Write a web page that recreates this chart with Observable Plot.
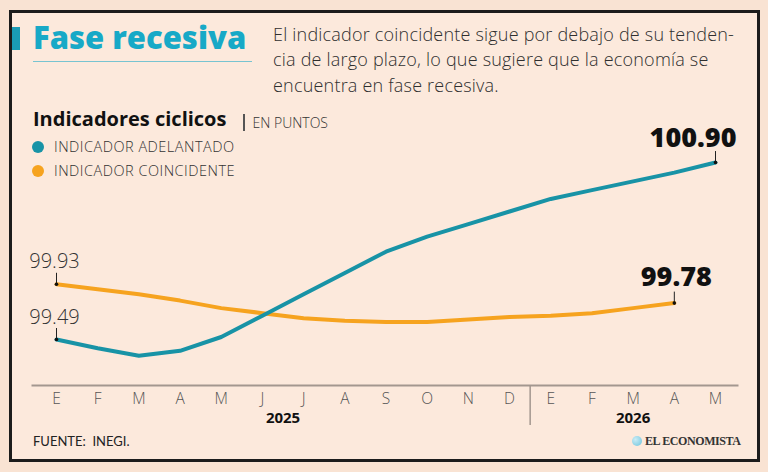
<!DOCTYPE html>
<html>
<head>
<meta charset="utf-8">
<script src="https://cdn.jsdelivr.net/npm/d3@7"></script>
<script src="https://cdn.jsdelivr.net/npm/@observablehq/plot@0.6"></script>
<style>
  html, body { margin: 0; padding: 0; }
  body { width: 768px; height: 472px; background: #f9e3d3; position: relative; overflow: hidden; font-family: "Open Sans", Lato, sans-serif; color: #333; }
  #card { position: absolute; left: 9px; top: 10px; width: 745px; height: 446px; border: 3px solid #1c1c1c; background: #fce9dc; }
  .abs { position: absolute; white-space: nowrap; }
  #bar { left: 12px; top: 27px; width: 8px; height: 23px; background: #1a9cb6; }
  #title { left: 33px; top: 22px; font-size: 31px; line-height: 31px; font-weight: 800; color: #17a9c7; }
  #rule { left: 33px; top: 61px; width: 219px; height: 1px; background: #78c4d1; }
  #sub { left: 273px; top: 21.5px; font-size: 18px; line-height: 25.5px; font-weight: 300; color: #2f2f2f; letter-spacing: 0.2px; }
  #head { left: 33px; top: 109px; font-size: 20px; line-height: 20px; font-weight: 700; color: #111; }
  #unit { left: 243px; top: 113.5px; font-size: 14px; line-height: 16px; font-weight: 300; color: #333; }
  #unit .sep { display: inline-block; width: 1.5px; height: 17px; background: #555; vertical-align: -3px; margin-right: 8px; }
  .key { left: 32px; font-size: 14.5px; line-height: 16px; font-weight: 300; color: #333; letter-spacing: 0.5px; }
  .dot { display: inline-block; width: 12px; height: 12px; border-radius: 50%; margin-right: 10px; vertical-align: -1px; }
  #src { left: 33px; top: 434px; font-family: Lato, sans-serif; font-size: 13px; line-height: 14px; font-weight: 400; color: #222; }
  #logo { left: 632px; top: 434px; font-size: 12px; line-height: 14px; font-family: "Liberation Serif", serif; font-weight: 700; color: #333; letter-spacing: -0.4px; }
  #logo .ball { display: inline-block; width: 10px; height: 10px; border-radius: 50%; background: radial-gradient(circle at 35% 35%, #c9ecf5, #6cc3dd); margin-right: 3px; vertical-align: -1px; }
  #chart { position: absolute; left: 0; top: 0; }
</style>
</head>
<body>
<div id="card"></div>
<div class="abs" id="bar"></div>
<div class="abs" id="title">Fase recesiva</div>
<div class="abs" id="rule"></div>
<div class="abs" id="sub">El indicador coincidente sigue por debajo de su tenden-<br>cia de largo plazo, lo que sugiere que la economía se<br>encuentra en fase recesiva.</div>
<div class="abs" id="head">Indicadores ciclicos</div>
<div class="abs" id="unit"><span class="sep"></span>EN PUNTOS</div>
<div class="abs key" style="top:138.5px"><span class="dot" style="background:#1893a6"></span>INDICADOR ADELANTADO</div>
<div class="abs key" style="top:162.5px"><span class="dot" style="background:#f6a31f"></span>INDICADOR COINCIDENTE</div>
<div class="abs" id="src">FUENTE:&nbsp; INEGI.</div>
<div class="abs" id="logo"><span class="ball"></span>EL ECONOMISTA</div>
<div id="chart"></div>
<script>
// Monthly cyclical indicators, January 2025 – May 2026 (points)
const months = ["E", "F", "M", "A", "M", "J", "J", "A", "S", "O", "N", "D", "E", "F", "M", "A", "M"];
const years = ["2025", "2026"];
const monthsPerYear = [12, 5];
const adelantado = [99.49, 99.42, 99.36, 99.40, 99.51, 99.68, 99.85, 100.02, 100.19, 100.31, 100.41, 100.51, 100.61, 100.68, 100.75, 100.82, 100.90];
const coincidente = [99.93, 99.89, 99.85, 99.80, 99.74, 99.70, 99.66, 99.64, 99.63, 99.63, 99.65, 99.67, 99.68, 99.70, 99.74, 99.78];

const TEAL = "#1893a6";
const ORANGE = "#f6a31f";
const AXIS = "#a3978f";
const FONT = "'Open Sans', Lato, sans-serif";

const rows = (values, series) => values.map((value, i) => ({i, value, series}));
const lead = rows(adelantado, "adelantado");
const coin = rows(coincidente, "coincidente");

// year blocks along the month axis
const yearStarts = [];
monthsPerYear.reduce((start, n) => (yearStarts.push(start), start + n), 0);
const yearCenters = yearStarts.map((s, k) => s + (monthsPerYear[k] - 1) / 2);
const yearLabel = new Map(yearCenters.map((c, k) => [c, years[k]]));
const yearBreaks = yearStarts.slice(1).map(s => s - 0.5);

// first and last reading of each series get a value label
const firsts = [lead[0], coin[0]];
const lastLead = [lead[lead.length - 1]];
const lastCoin = [coin[coin.length - 1]];
const ends = [...firsts, ...lastLead, ...lastCoin];
const fmt = d3.format(".2f");

const chart = Plot.plot({
  width: 768,
  height: 472,
  marginLeft: 32,
  marginRight: 31,
  marginTop: 0,
  marginBottom: 87,
  style: {background: "transparent", fontFamily: FONT, overflow: "visible"},
  x: {type: "linear", domain: [0, months.length - 1], range: [56, 715], label: null},
  y: {type: "linear", domain: [99, 101], range: [400.5, 149.5], axis: null, label: null},
  marks: [
    Plot.frame({anchor: "bottom", stroke: AXIS, strokeWidth: 2}),
    Plot.axisX({ticks: d3.range(months.length), tickFormat: i => months[i], tickSize: 0, tickPadding: 7, fontSize: 15.5, fontWeight: 300, fill: "#555", label: null}),
    Plot.axisX({ticks: yearCenters, tickFormat: c => yearLabel.get(c), tickSize: 0, tickPadding: 27, fontSize: 15, fontWeight: 700, fill: "#111", label: null}),
    Plot.axisX({ticks: yearBreaks, tickFormat: () => "", tickSize: 40, tickPadding: 0, stroke: AXIS, strokeWidth: 1.5, label: null}),
    Plot.line(coin, {x: "i", y: "value", stroke: ORANGE, strokeWidth: 4}),
    Plot.line(lead, {x: "i", y: "value", stroke: TEAL, strokeWidth: 4}),
    Plot.ruleX(ends, {x: "i", y1: "value", y2: "value", insetTop: -11, stroke: "#222", strokeWidth: 1}),
    Plot.dot(ends, {x: "i", y: "value", r: 1.8, fill: "#111"}),
    Plot.text(firsts, {x: "i", y: "value", text: d => fmt(d.value), textAnchor: "middle", lineAnchor: "bottom", dy: -16, dx: -2, fontSize: 20, fontWeight: 300, fill: "#333"}),
    Plot.text(lastCoin, {x: "i", y: "value", text: d => fmt(d.value), textAnchor: "middle", lineAnchor: "bottom", dy: -17, dx: 2, fontSize: 27, fontWeight: 800, fill: "#111"}),
    Plot.text(lastLead, {x: "i", y: "value", text: d => fmt(d.value), textAnchor: "end", lineAnchor: "bottom", dy: -16, dx: 21, fontSize: 27, fontWeight: 800, fill: "#111"})
  ]
});
document.getElementById("chart").append(chart);
</script>
</body>
</html>
